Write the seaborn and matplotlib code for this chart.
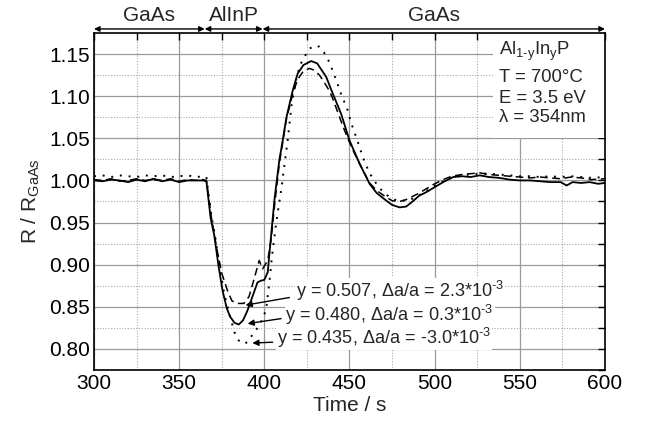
import numpy as np
import pandas as pd
import matplotlib
matplotlib.use('Agg')
import matplotlib.pyplot as plt
import matplotlib.ticker as mticker
from matplotlib.patches import Rectangle
import seaborn as sns

# --------------------------
# Data
# --------------------------
# y = 0.480 (solid)
t_480 = [300, 305, 310, 315, 320, 325, 330, 335, 340, 345, 350, 355, 360, 364, 366,
         368.5, 370.6, 373, 375.5, 378, 380, 382.5, 385, 387.5, 390, 393, 396, 398, 400,
         402, 404, 406, 408.8, 410.8, 413, 416.7, 419.6, 423, 427.5, 431, 436.3, 440,
         445.1, 450, 455.9, 461.8, 466, 471.6, 475, 479.4, 483.3, 487, 491, 495, 500,
         505, 510.8, 516, 521, 526.5, 532, 538, 544, 550, 556, 562, 568, 574, 577.5,
         581, 586, 591, 596, 600]
r_480 = [1.000, 0.999, 1.001, 1.000, 0.998, 1.001, 0.999, 1.002, 0.999, 1.001, 0.998, 1.000, 1.000, 1.000, 0.999,
         0.955, 0.935, 0.900, 0.869, 0.848, 0.838, 0.831, 0.829, 0.834, 0.845, 0.862, 0.879, 0.881, 0.882,
         0.891, 0.935, 0.978, 1.024, 1.0475, 1.075, 1.107, 1.127, 1.137, 1.1417, 1.139, 1.123, 1.104,
         1.079, 1.0475, 1.020, 0.996, 0.985, 0.976, 0.971, 0.968, 0.969, 0.975, 0.982, 0.986, 0.992,
         0.998, 1.004, 1.005, 1.004, 1.006, 1.004, 1.003, 1.001, 1.000, 1.000, 0.999, 0.998, 0.998, 0.994,
         0.998, 0.997, 0.998, 0.996, 0.997]

# y = 0.507 (dashed)
t_507 = [300, 305, 310, 315, 320, 325, 330, 335, 340, 345, 350, 355, 360, 364, 366,
         369, 372, 375, 378.4, 381, 384, 388, 391, 394, 397, 399, 402, 404, 406, 408.8,
         410.8, 413, 416.7, 419.6, 423, 426.5, 429, 432.4, 435, 438, 440, 443.1, 446, 449,
         452, 455.9, 461.8, 466, 471.6, 475, 479.4, 483, 487, 491, 495, 500, 505, 510,
         516, 521, 526.5, 532, 538, 544, 550, 556, 562, 568, 574, 580, 586, 592, 600]
r_507 = [1.001, 1.000, 1.002, 0.999, 1.000, 1.002, 1.000, 1.001, 1.000, 1.002, 0.999, 1.001, 1.000, 1.001, 1.000,
         0.955, 0.920, 0.890, 0.869, 0.857, 0.854, 0.854, 0.862, 0.883, 0.905, 0.895, 0.905, 0.930, 0.970, 1.020,
         1.045, 1.073, 1.103, 1.120, 1.130, 1.133, 1.131, 1.125, 1.117, 1.107, 1.098, 1.081, 1.065, 1.050,
         1.036, 1.020, 0.997, 0.988, 0.980, 0.976, 0.975, 0.977, 0.981, 0.985, 0.990, 0.996, 1.001, 1.005,
         1.007, 1.008, 1.009, 1.007, 1.006, 1.005, 1.004, 1.003, 1.004, 1.003, 1.002, 1.004, 1.003, 1.001, 1.002]

# y = 0.435 (dotted)
t_435 = [300, 305, 310, 315, 320, 325, 330, 335, 340, 345, 350, 355, 360, 364, 366,
         368.8, 371, 374, 376.5, 379.4, 382.4, 385, 388, 390, 392, 395, 398, 401, 403,
         404.5, 406.9, 410, 413.7, 416, 418.6, 421, 424.5, 427, 429.4, 432, 435, 437.3,
         440, 442.2, 445, 449, 451, 454, 457.8, 461, 463.7, 468, 473.5, 478, 483.3, 488,
         493, 498, 503, 508, 514, 520, 526, 532, 538, 544, 550, 556, 562, 568, 574, 580,
         586, 592, 600]
r_435 = [1.005, 1.006, 1.004, 1.006, 1.005, 1.004, 1.006, 1.005, 1.006, 1.004, 1.005, 1.006, 1.004, 1.005, 1.004,
         0.960, 0.935, 0.895, 0.865, 0.842, 0.820, 0.810, 0.806, 0.808, 0.814, 0.822, 0.832, 0.846, 0.880,
         0.910, 0.949, 0.990, 1.0475, 1.090, 1.119, 1.137, 1.150, 1.157, 1.160, 1.159, 1.152, 1.144,
         1.131, 1.119, 1.103, 1.083, 1.068, 1.051, 1.028, 1.012, 1.002, 0.990, 0.980, 0.976, 0.976, 0.979,
         0.985, 0.991, 0.997, 1.002, 1.005, 1.007, 1.008, 1.008, 1.007, 1.006, 1.005, 1.005, 1.004, 1.005,
         1.004, 1.005, 1.004, 1.003, 1.004]

labels = ['y = 0.507, Δa/a = 2.3*10$^{\\text{-3}}$',
          'y = 0.480, Δa/a = 0.3*10$^{\\text{-3}}$',
          'y = 0.435, Δa/a = -3.0*10$^{\\text{-3}}$']

regions = ['GaAs', 'AlInP', 'GaAs']
region_edges = [300, 365, 399, 600]

# --------------------------
# Style
# --------------------------
sns.set_style('white')
plt.rcParams['font.family'] = ['Liberation Sans', 'DejaVu Sans']
plt.rcParams['mathtext.fontset'] = 'custom'
plt.rcParams['mathtext.rm'] = 'Liberation Sans'
plt.rcParams['mathtext.it'] = 'Liberation Sans'

fig = plt.figure(figsize=(6.46, 4.23), dpi=100)
ax = fig.add_axes([0.1455, 0.1253, 0.7910, 0.7967])

sns.lineplot(x=t_480, y=r_480, ax=ax, color='black', lw=1.3, linestyle='-', zorder=5)
sns.lineplot(x=t_507, y=r_507, ax=ax, color='black', lw=1.1, linestyle=(0, (5, 3)), zorder=5)
sns.lineplot(x=t_435, y=r_435, ax=ax, color='black', lw=1.4, linestyle=(0, (1, 3.5)), zorder=5)

ax.set_xlim(300, 600)
ax.set_ylim(0.775, 1.175)
ax.xaxis.set_major_locator(mticker.MultipleLocator(50))
ax.xaxis.set_minor_locator(mticker.MultipleLocator(25))
ax.yaxis.set_major_locator(mticker.MultipleLocator(0.05))
ax.yaxis.set_minor_locator(mticker.MultipleLocator(0.025))
ax.yaxis.set_major_formatter(mticker.FormatStrFormatter('%.2f'))

ax.grid(which='major', color='#9a9a9a', lw=0.9, ls='-')
ax.grid(which='minor', color='#aaaaaa', lw=0.8, ls=(0, (1, 1.5)))
ax.set_axisbelow(True)

ax.tick_params(which='both', direction='in', top=True, right=True, length=5,
               width=1, labelsize=15, colors='black', pad=3)
for s in ax.spines.values():
    s.set_color('black')
    s.set_linewidth(1.2)

ax.set_xlabel('Time / s', fontsize=15, labelpad=2)
ax.set_ylabel('R / R$_{\\rm GaAs}$', fontsize=15, labelpad=5)

# white box behind the sample info
ax.add_patch(Rectangle((0.781, 0.688), 0.219, 0.312, transform=ax.transAxes,
                       facecolor='white', edgecolor='none', zorder=2))
info = ['Al$_{\\text{1-y}}$In$_{\\rm y}$P', 'T = 700°C', 'E = 3.5 eV', 'λ = 354nm']
info_y = [0.944, 0.869, 0.807, 0.748]
for txt, yy in zip(info, info_y):
    ax.text(0.792, yy, txt, transform=ax.transAxes, fontsize=13.3, va='center',
            ha='left', zorder=6)

# annotations with arrows
text_pos = [(418.6, 0.869), (412.4, 0.840), (407.5, 0.8135)]
tail_pos = [(414.7, 0.861), (409.8, 0.836), (404.9, 0.808)]
head_pos = [(389.0, 0.852), (390.2, 0.830), (393.0, 0.807)]
for lab, tp, tl, hd in zip(labels, text_pos, tail_pos, head_pos):
    ax.text(tp[0], tp[1], lab, fontsize=13.1, va='center', ha='left', zorder=7,
            bbox=dict(facecolor='white', edgecolor='none', pad=0.5))
    ax.annotate('', xy=hd, xytext=tl,
                arrowprops=dict(arrowstyle='-|>', color='black', lw=1,
                                mutation_scale=9, shrinkA=0, shrinkB=0), zorder=7)

# region arrows above the plot
trans = ax.get_xaxis_transform()
for name, a, b in zip(regions, region_edges[:-1], region_edges[1:]):
    ax.annotate('', xy=(a, 1.012), xytext=(b, 1.012), xycoords=trans, textcoords=trans,
                arrowprops=dict(arrowstyle='<|-|>', color='black', lw=1,
                                mutation_scale=8, shrinkA=0, shrinkB=0),
                annotation_clip=False)
    ax.text((a + b) / 2, 1.051, name, transform=trans, ha='center', va='center',
            fontsize=15)

plt.savefig('out.png', dpi=100)
